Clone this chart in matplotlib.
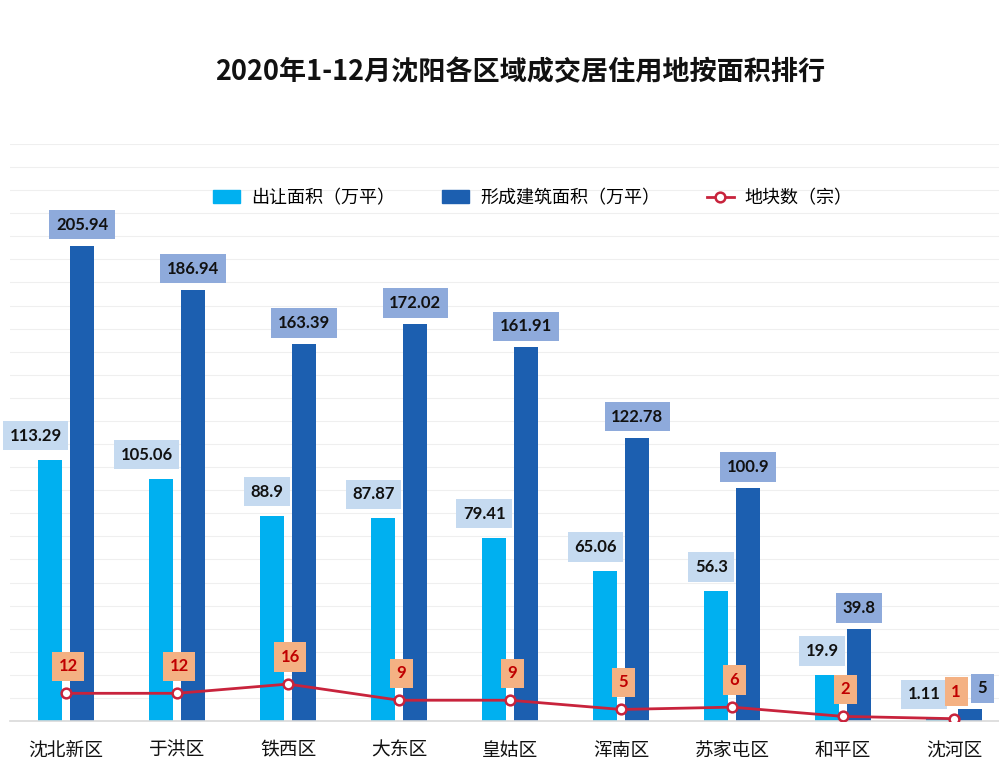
import numpy as np
import matplotlib
matplotlib.use("Agg")
import matplotlib.pyplot as plt
from matplotlib.patches import Patch
from matplotlib.lines import Line2D

plt.rcParams['font.family'] = ['Noto Sans CJK SC', 'DejaVu Sans']

# Data
districts = ["沈北新区", "于洪区", "铁西区", "大东区", "皇姑区", "浑南区", "苏家屯区", "和平区", "沈河区"]
sold_area = [113.29, 105.06, 88.9, 87.87, 79.41, 65.06, 56.3, 19.9, 1.11]
build_area = [205.94, 186.94, 163.39, 172.02, 161.91, 122.78, 100.9, 39.8, 5]
plot_count = [12, 12, 16, 9, 9, 5, 6, 2, 1]

sold_labels = ["113.29", "105.06", "88.9", "87.87", "79.41", "65.06", "56.3", "19.9", "1.11"]
build_labels = ["205.94", "186.94", "163.39", "172.02", "161.91", "122.78", "100.9", "39.8", "5"]

# Styles
LIGHT = "#00b0f0"
DARK = "#1c5fb0"
LINE = "#c8233c"
LIGHT_BOX = "#c5daf0"
DARK_BOX = "#8eaadb"
COUNT_BOX = "#f4b183"
COUNT_TEXT = "#c00000"
NUM_FONT = ["Lato", "DejaVu Sans"]

W, H = 999, 762
fig = plt.figure(figsize=(W / 100, H / 100), dpi=100)
fig.patch.set_facecolor("white")

ax = fig.add_axes([10 / W, 41 / H, 989 / W, 577 / H])

x = np.arange(len(districts))
bw = 0.215
off = 0.146

ax.bar(x - off, sold_area, bw, color=LIGHT, zorder=2)
ax.bar(x + off, build_area, bw, color=DARK, zorder=2)
ax.plot(x, plot_count, color=LINE, lw=2, marker="o", ms=7,
        mfc="white", mec=LINE, mew=1.8, zorder=4)

ax.set_xlim(-0.505, 8.405)
ax.set_ylim(0, 250)
ax.set_yticks(np.arange(0, 251, 10))
ax.yaxis.grid(True, color="#efefef", lw=0.8, zorder=0)
ax.tick_params(axis="y", left=False, labelleft=False)
ax.tick_params(axis="x", bottom=False, pad=10)
ax.set_xticks(x)
ax.set_xticklabels(districts, fontsize=13.5, color="#111111")
for s in ["top", "right", "left"]:
    ax.spines[s].set_visible(False)
ax.spines["bottom"].set_color("#d9d9d9")
ax.spines["bottom"].set_linewidth(1.2)

box_style = "square,pad=0.4"

# value labels for light bars
for i, (v, t) in enumerate(zip(sold_area, sold_labels)):
    dx = -9 if i == len(districts) - 1 else 0
    ax.annotate(t, xy=(x[i] - off + bw / 2, v), xytext=(dx, 16),
                textcoords="offset pixels", ha="right", va="bottom",
                fontsize=12, fontweight="bold", family=NUM_FONT, color="#111111",
                bbox=dict(boxstyle=box_style, fc=LIGHT_BOX, ec="none"),
                zorder=5)

# value labels for dark bars
for i, (v, t) in enumerate(zip(build_area, build_labels)):
    dx = 12 if i == len(districts) - 1 else 0
    ax.annotate(t, xy=(x[i] + off, v), xytext=(dx, 13),
                textcoords="offset pixels", ha="center", va="bottom",
                fontsize=12, fontweight="bold", family=NUM_FONT, color="#111111",
                bbox=dict(boxstyle=box_style, fc=DARK_BOX, ec="none"),
                zorder=5)

# count labels
for i, v in enumerate(plot_count):
    ax.annotate(str(v), xy=(x[i], v), xytext=(2, 27),
                textcoords="offset pixels", ha="center", va="center",
                fontsize=12, fontweight="bold", family=NUM_FONT, color=COUNT_TEXT,
                bbox=dict(boxstyle=box_style, fc=COUNT_BOX, ec="none"),
                zorder=6)

fig.text(520 / W, 1 - 72 / H, "2020年1-12月沈阳各区域成交居住用地按面积排行",
         ha="center", va="center", fontsize=19.5, fontweight="bold", color="#111111")

handles = [
    Patch(color=LIGHT),
    Patch(color=DARK),
    Line2D([], [], color=LINE, lw=2, marker="o", ms=7, mfc="white", mec=LINE, mew=1.8),
]
fig.legend(handles, ["出让面积（万平）", "形成建筑面积（万平）", "地块数（宗）"],
           loc="center", bbox_to_anchor=(533 / W, 1 - 198 / H), ncol=3,
           frameon=False, fontsize=13, handlelength=1.5, handleheight=0.75,
           columnspacing=2.6, handletextpad=0.6)

fig.savefig("out.png", dpi=100, facecolor="white")
